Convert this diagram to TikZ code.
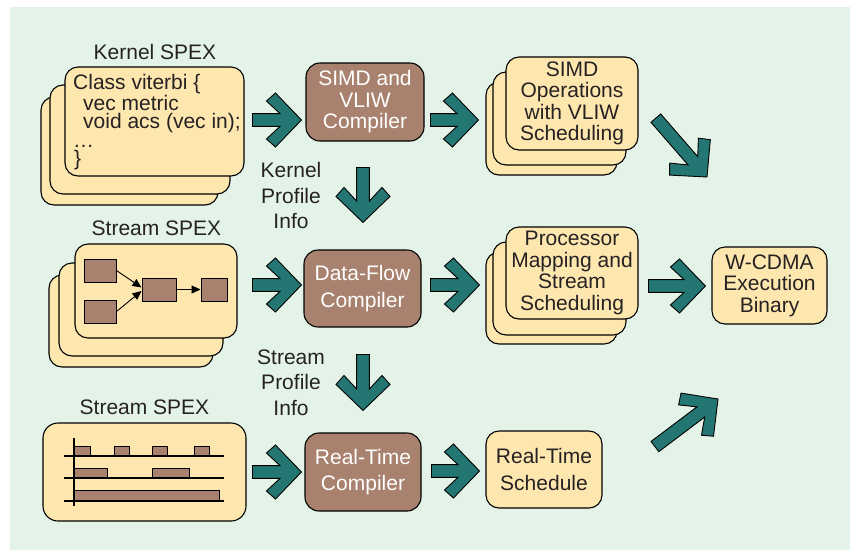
\documentclass[tikz,border=0pt]{standalone}
\usepackage{fontspec}
\setmainfont{Liberation Sans}
\usetikzlibrary{arrows.meta,calc}
\definecolor{bgc}{HTML}{E4F3E7}
\definecolor{paleyel}{HTML}{FEE6AF}
\definecolor{brownc}{HTML}{A9826F}
\definecolor{tealc}{HTML}{237672}
\definecolor{txt}{HTML}{262223}
\begin{document}
\begin{tikzpicture}[x=1pt,y=-1pt,
  every node/.style={text=txt},
  lbl/.style={font=\fontsize{21}{25.5}\selectfont, align=center, inner sep=0pt},
  code/.style={font=\fontsize{21}{18.4}\selectfont, align=left, anchor=north west, inner sep=0pt},
  ybox/.style={draw=black, line width=1.1pt, fill=paleyel, rounded corners=13pt, inner sep=0pt},
  cbox/.style={draw=black, line width=1.1pt, fill=brownc, rounded corners=14pt, inner sep=0pt,
     text=white, align=center},
  sbox/.style={draw=black, line width=1pt, fill=brownc, inner sep=0pt},
  three/.style={font=\fontsize{21}{21.5}\selectfont},
  two/.style={font=\fontsize{21}{26.5}\selectfont},
  arrowbody/.style={draw=black, line width=0.9pt, fill=tealc, line join=miter},
  blockarrow/.pic={\path[arrowbody] (0,0) -- (-26,-27) -- (-35,-19) -- (-21.5,-6.4) -- (-#1,-6.4)
      -- (-#1,6.4) -- (-21.5,6.4) -- (-35,19) -- (-26,27) -- cycle;},
  thin/.style={-{Triangle[length=9pt,width=8pt]}, line width=0.9pt, black}
]
\useasboundingbox (0,0) rectangle (850,550);
\fill[bgc] (10,7) rectangle (850,550);

% ---------- Kernel SPEX ----------
\node[lbl] (klbl) at (155,52) {Kernel SPEX};
\node[ybox, minimum width=177pt, minimum height=108pt] (k3) at (129.5,151) {};
\node[ybox, minimum width=180pt, minimum height=109pt] (k2) at (140,139.5) {};
\node[ybox, minimum width=179pt, minimum height=109pt] (k1) at (154.5,121.5) {};
\node[code] (code) at (73,74.5) {Class viterbi \{\\
\hspace*{10pt}vec metric\\
\hspace*{10pt}void acs (vec in);\\
…\\
\hspace*{1pt}\}};

% ---------- Stream SPEX (graph) ----------
\node[lbl] (s1lbl) at (156.5,228) {Stream SPEX};
\node[ybox, minimum width=164pt, minimum height=92pt] (s3) at (131,321) {};
\node[ybox, minimum width=164pt, minimum height=93pt] (s2) at (141,309.5) {};
\node[ybox, minimum width=162pt, minimum height=94pt] (s1) at (156,291) {};
\node[sbox, minimum width=32pt, minimum height=23pt] (b1) at (100,270.5) {};
\node[sbox, minimum width=32pt, minimum height=23pt] (b2) at (100,311.5) {};
\node[sbox, minimum width=34pt, minimum height=23pt] (b3) at (159,289.5) {};
\node[sbox, minimum width=26pt, minimum height=23pt] (b4) at (214,289.5) {};
\draw[thin] (b1.east) -- ([yshift=2pt]b3.west);
\draw[thin] (b2.east) -- ([yshift=-1.5pt]b3.west);
\draw[thin] (b3.east) -- (b4.west);

% ---------- Stream SPEX (timing) ----------
\node[lbl] (s2lbl) at (144.5,407) {Stream SPEX};
\node[ybox, rounded corners=15pt, minimum width=203pt, minimum height=98pt] (tbox) at (144.5,472) {};
\fill[brownc, draw=black, line width=0.9pt] (74,446) rectangle (90,456) (114,446) rectangle (129,456)
   (152,446) rectangle (167,456) (194,446) rectangle (209,456);
\fill[brownc, draw=black, line width=0.9pt] (74,468) rectangle (107,478) (152,468) rectangle (189,478);
\fill[brownc, draw=black, line width=0.9pt] (74,490) rectangle (219,501);
\draw[line width=1.5pt, black] (64,456) -- (224,456) (64,478) -- (224,478) (64,501) -- (224,501);
\draw[line width=1.5pt, black] (74,438) -- (74,506);

% ---------- Compilers ----------
\node[cbox, three, minimum width=118pt, minimum height=78pt] (simdc) at (365,102) {SIMD and\\VLIW\\Compiler};
\node[cbox, two, minimum width=117pt, minimum height=77pt] (dfc) at (362.5,288.5) {Data-Flow\\Compiler};
\node[cbox, two, minimum width=116pt, minimum height=78pt] (rtc) at (363,472) {Real-Time\\Compiler};

% ---------- Profile labels ----------
\node[lbl] (kpi) at (291,195.5) {Kernel\\Profile\\Info};
\node[lbl] (spi) at (291,382.5) {Stream\\Profile\\Info};

% ---------- Output stacks ----------
\node[ybox, minimum width=131pt, minimum height=93pt] (o3) at (551.5,128.5) {};
\node[ybox, minimum width=133pt, minimum height=93pt] (o2) at (559.5,118.5) {};
\node[ybox, three, align=center, minimum width=132pt, minimum height=93pt] (o1) at (572,103.5)
   {SIMD\\Operations\\with VLIW\\Scheduling};
\node[ybox, minimum width=131pt, minimum height=92pt] (p3) at (551.5,298) {};
\node[ybox, minimum width=133pt, minimum height=93pt] (p2) at (559.5,288.5) {};
\node[ybox, three, align=center, minimum width=132pt, minimum height=92pt] (p1) at (572,273)
   {Processor\\Mapping and\\Stream\\Scheduling};
\node[ybox, two, align=center, minimum width=116pt, minimum height=77pt] (rts) at (544,469.5)
   {Real-Time\\Schedule};
\node[ybox, three, align=center, minimum width=115pt, minimum height=77pt] (wc) at (769.5,285.5)
   {W-CDMA\\Execution\\Binary};

% ---------- Block arrows ----------
\coordinate (t1) at ($(simdc.west)+(-4,18)$);
\coordinate (t2) at ($(o2.west)+(-14,1.5)$);
\coordinate (t3) at ($(dfc.north)+(0.5,-27)$);
\coordinate (t4) at ($(dfc.west)+(-2,-3.5)$);
\coordinate (t5) at ($(p2.west)+(-13,-3.5)$);
\coordinate (t6) at ($(wc.west)+(-6,0.5)$);
\coordinate (t7) at (707,177);
\coordinate (t8) at ($(rtc.north)+(0,-22)$);
\coordinate (t9) at ($(rtc.west)+(-3,0)$);
\coordinate (t10) at ($(rts.west)+(-6,1.5)$);
\coordinate (t11) at (718,399);
\pic (a1) at (t1) {blockarrow=49};
\pic (a2) at (t2) {blockarrow=48};
\pic[rotate=-90] (a3) at (t3) {blockarrow=55};
\pic (a4) at (t4) {blockarrow=49};
\pic (a5) at (t5) {blockarrow=49};
\pic (a6) at (t6) {blockarrow=57};
\pic[rotate=-49] (a7) at (t7) {blockarrow=78};
\pic[rotate=-90] (a8) at (t8) {blockarrow=56};
\pic (a9) at (t9) {blockarrow=49};
\pic (a10) at (t10) {blockarrow=48};
\pic[rotate=37] (a11) at (t11) {blockarrow=79};
\end{tikzpicture}
\end{document}
